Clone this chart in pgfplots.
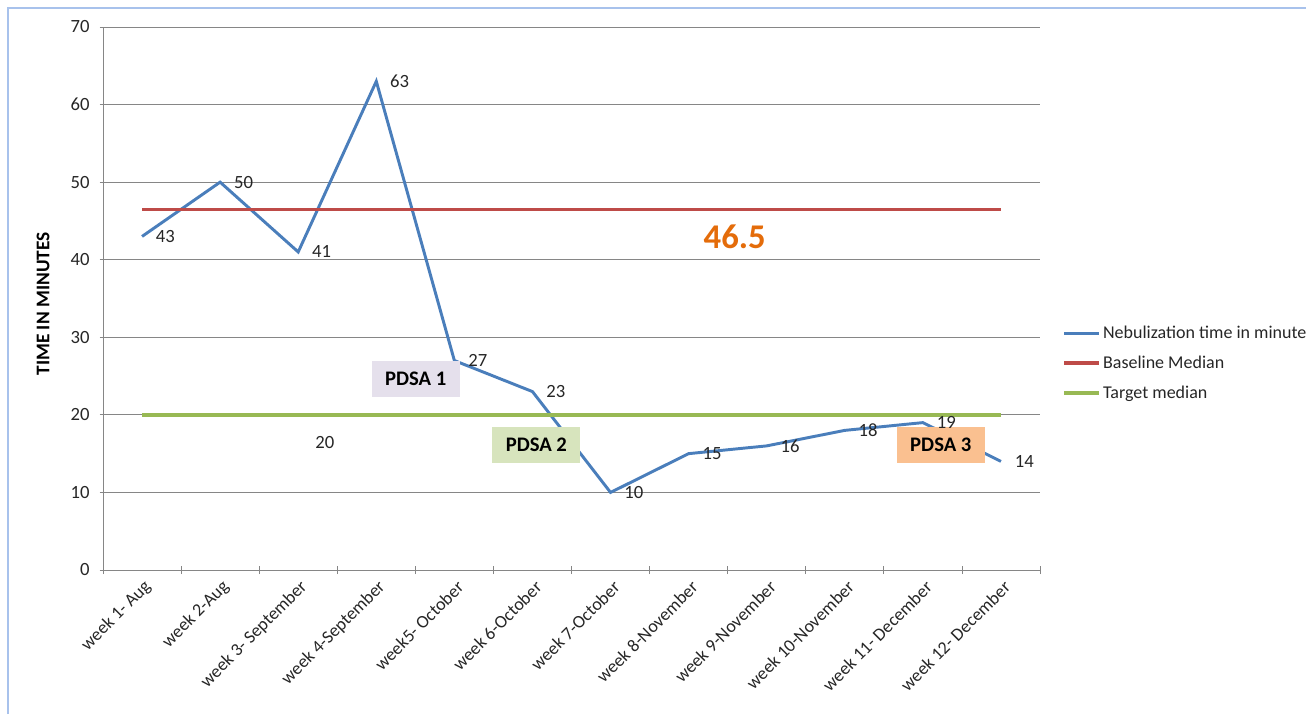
\documentclass[border=0pt]{standalone}
\usepackage{fontspec}
\setmainfont{Carlito}
\usepackage{pgfplots}
\pgfplotsset{compat=1.18}

\definecolor{nebblue}{HTML}{4A7EBB}
\definecolor{basered}{HTML}{BE4B48}
\definecolor{targetgreen}{HTML}{98B954}
\definecolor{gridgray}{HTML}{868686}
\definecolor{framblue}{HTML}{A8C2EC}
\definecolor{pdsaone}{HTML}{E5E0EC}
\definecolor{pdsatwo}{HTML}{D7E4BD}
\definecolor{pdsathree}{HTML}{FAC090}
\definecolor{medorange}{HTML}{E46C0A}
\definecolor{labtext}{HTML}{262626}

\begin{document}
\begin{tikzpicture}[x=0.75pt,y=0.75pt]
\useasboundingbox (0,0) rectangle (1306,714);
% outer frame (only top and left edges show)
\draw[framblue, line width=1.5pt] (8,0) -- (8,706) -- (1320,706);

\begin{axis}[
    at={(77.25pt,108pt)}, anchor=south west,
    scale only axis,
    width=702.75pt, height=407.25pt,
    xmin=-0.5, xmax=11.5,
    ymin=0, ymax=70,
    ytick={0,10,...,70},
    xtick={0,...,11},
    xticklabels={week 1- Aug, week 2-Aug, week 3- September, week 4-September,
        week5- October, week 6-October, week 7-October, week 8-November,
        week 9-November, week 10-November, week 11- December, week 12- December},
    major x tick style={draw=none},
    minor xtick={-0.5,0.5,...,11.5},
    minor tick length=6pt,
    major tick length=5pt,
    tick align=outside,
    tick style={gridgray, line width=0.6pt},
    axis x line=bottom, axis y line=left,
    axis line style={gridgray, line width=0.7pt, -},
    ymajorgrids=true,
    grid style={gridgray, line width=0.7pt},
    x tick label style={rotate=45, anchor=east, font=\fontsize{13.5}{15}\selectfont, text=labtext, xshift=1pt, yshift=-9pt},
    y tick label style={font=\fontsize{14}{16}\selectfont, text=labtext, xshift=-4pt},
    /pgf/number format/assume math mode=true,
    ylabel={\textbf{TIME IN MINUTES}},
    ylabel style={at={(axis description cs:-0.064,0.49)}, anchor=center, rotate=0, font=\fontsize{14.5}{16}\selectfont},
    legend style={at={(axis description cs:1.0235,0.455)}, anchor=north west, draw=none, fill=none,
        font=\fontsize{13.5}{15}\selectfont, text=labtext, row sep=7.5pt, inner sep=0pt},
    legend cell align=left,
    legend image code/.code={\draw[#1] (0pt,0pt) -- (26pt,0pt);},
    clip=false,
]
\addplot[nebblue, line width=2.2pt,
    nodes near coords, point meta=explicit symbolic,
    every node near coord/.append style={anchor=west, xshift=6pt, font=\fontsize{14}{16}\selectfont, text=labtext}]
    coordinates {
    (0,43)[43] (1,50)[50] (2,41)[41] (3,63)[63] (4,27)[27] (5,23)[23]
    (6,10)[10] (7,15)[15] (8,16)[16] (9,18)[18] (10,19)[19] (11,14)[14]
    };
\addlegendentry{Nebulization time in minutes}
\addplot[basered, line width=2.6pt] coordinates {(0,46.5) (11,46.5)};
\addlegendentry{Baseline Median}
\addplot[targetgreen, line width=2.6pt] coordinates {(0,20) (11,20)};
\addlegendentry{Target median}

\node[font=\fontsize{26}{30}\selectfont\bfseries, text=medorange] at (axis cs:7.59,42.9) {46.5};
\node[font=\fontsize{14}{16}\selectfont, text=labtext] at (axis cs:2.34,16.5) {20};
\node[fill=pdsaone, minimum width=66pt, minimum height=27pt, font=\fontsize{15.5}{17}\selectfont\bfseries] at (axis cs:3.505,24.6) {PDSA 1};
\node[fill=pdsatwo, minimum width=66pt, minimum height=27pt, font=\fontsize{15.5}{17}\selectfont\bfseries] at (axis cs:5.05,16.1) {PDSA 2};
\node[fill=pdsathree, minimum width=66pt, minimum height=27pt, font=\fontsize{15.5}{17}\selectfont\bfseries] at (axis cs:10.23,16.1) {PDSA 3};
\end{axis}
\end{tikzpicture}
\end{document}
